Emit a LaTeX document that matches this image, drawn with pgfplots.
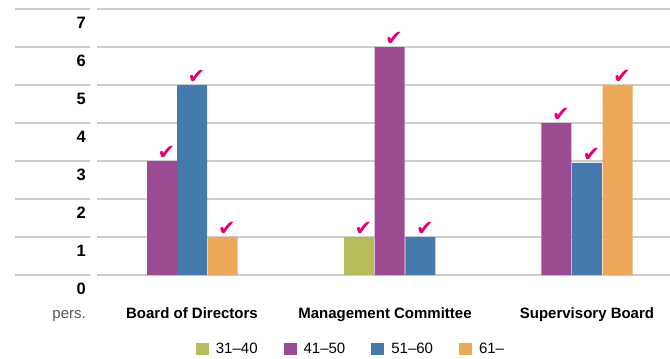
\documentclass[border=0pt]{standalone}
\usepackage{fontspec}
\setmainfont{Liberation Sans}
\newfontfamily\checkfont{DejaVu Sans}
\usepackage{pgfplots}
\pgfplotsset{compat=1.18}
\definecolor{cGreen}{HTML}{B6BC5A}
\definecolor{cPurple}{HTML}{9B4B91}
\definecolor{cBlue}{HTML}{447AAC}
\definecolor{cOrange}{HTML}{ECA858}
\definecolor{cMag}{HTML}{E20074}
\definecolor{cGrid}{HTML}{CDCDCD}
\definecolor{cPers}{HTML}{555555}
\begin{document}
\begin{tikzpicture}[x=1pt,y=1pt]
\useasboundingbox (0,0) rectangle (670,359);
% left gridline segment
\begin{axis}[at={(15pt,84pt)}, anchor=south west, scale only axis,
  width=75pt, height=266pt, xmin=0, xmax=1, ymin=0, ymax=7,
  axis line style={draw=none}, xtick=\empty, ytick={0,...,7}, yticklabels={},
  major tick length=0pt, ymajorgrids, grid style={cGrid, line width=1.6pt}]
\addplot[draw=none] coordinates {(0,0)};
\end{axis}
\node[anchor=base east, inner sep=0pt, text=cPers, font=\fontsize{15}{15}\selectfont] at (86,40.7) {pers.};
\begin{axis}[at={(97pt,84pt)}, anchor=south west, scale only axis,
  width=573pt, height=266pt, xmin=97, xmax=670, ymin=0, ymax=7,
  axis line style={draw=none}, major tick length=0pt,
  ytick={0,...,7}, ymajorgrids, grid style={cGrid, line width=1.6pt},
  /pgf/number format/assume math mode=true,
  yticklabel style={font=\bfseries\fontsize{16.5}{16.5}\selectfont, anchor=north east, inner sep=0pt, xshift=-11pt, yshift=-7.7pt},
  xtick={192,385,587},
  xticklabels={Board of Directors, Management Committee, Supervisory Board},
  xticklabel style={font=\bfseries\fontsize{15}{15}\selectfont, anchor=base, inner sep=0pt, yshift=-43.3pt},
  ybar, bar width=30, bar shift=0pt,
  nodes near coords={\checkfont\fontsize{21}{21}\selectfont ✔},
  every node near coord/.style={text=cMag, anchor=south, inner sep=0pt, yshift=1.5pt, xshift=4.5pt},
  legend columns=4,
  legend style={draw=none, fill=none, at={(0.4415,-0.278)}, anchor=center,
    font=\fontsize{15}{15}\selectfont, inner sep=0pt,
    nodes={inner sep=0pt},
    /tikz/every even column/.append style={column sep=26pt}},
  legend image code/.code={\fill[#1, draw=none] (0pt,-6pt) rectangle (13pt,6pt); \path (20pt,0pt);},
  clip=false]
\addplot[fill=cGreen, draw=none] coordinates {(359,1)};
\addplot[fill=cPurple, draw=none] coordinates {(162,3) (389.5,6) (556.3,4)};
\addplot[fill=cBlue, draw=none] coordinates {(192,5) (420.3,1) (586.8,2.95)};
\addplot[fill=cOrange, draw=none] coordinates {(222.5,1) (617.5,5)};
\legend{31–40, 41–50, 51–60, 61–}
\end{axis}
\end{tikzpicture}
\end{document}
